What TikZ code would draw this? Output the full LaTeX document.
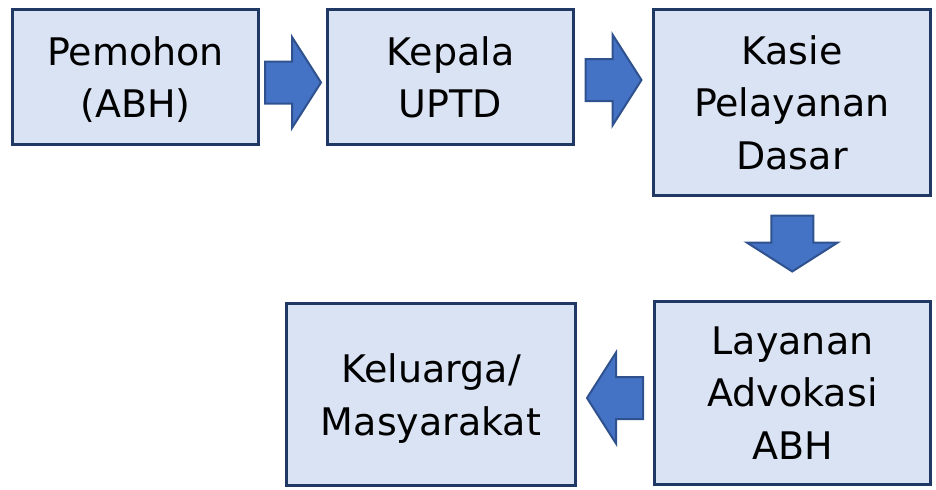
\documentclass[tikz,border=0pt]{standalone}
\usepackage{fontspec}
\setmainfont{DejaVu Sans}
\usetikzlibrary{calc}
\definecolor{isi}{HTML}{DAE3F3}
\definecolor{garis}{HTML}{1F3864}
\definecolor{panah}{HTML}{4472C4}
\definecolor{tepi}{HTML}{2F528F}
\begin{document}
\begin{tikzpicture}[x=0.5pt,y=0.5pt,
    kotak/.style={draw=garis,fill=isi,line width=1.5pt,align=center,inner sep=0pt,
        text depth=-3pt,font=\fontsize{19}{26.3}\selectfont},
    blok/.pic={\draw[fill=panah,draw=tepi,line width=1pt,line join=miter]
        (-28,-21) -- (-1,-21) -- (-1,-45.5) -- (28,0) -- (-1,45.5) -- (-1,21) -- (-28,21) -- cycle;}]
        \useasboundingbox (0,0) rectangle (936,489);
        \node[kotak,minimum width=123pt,minimum height=67.5pt] (pemohon) at (135.5,412){Pemohon\\(ABH)};
        \node[kotak,minimum width=123pt,minimum height=67.5pt] (kepala) at (450.5,412){Kepala\\UPTD};
        \node[kotak,minimum width=138.5pt,minimum height=93pt] (kasie) at (792,386.5){Kasie\\Pelayanan\\Dasar};
        \node[kotak,minimum width=138pt,minimum height=91.5pt] (layanan) at (792.5,96){Layanan\\Advokasi\\ABH};
        \node[kotak,minimum width=144.5pt,minimum height=91pt] (keluarga) at (431,94.5){Keluarga/\\Masyarakat};
        % panah blok
        \pic at ($($(pemohon.east)!0.5!(kepala.west)$)+(0,-5.5)$) {blok};
        \pic at ($($(kepala.east)!0.5!(kasie.west |- kepala.east)$)+(0,-3)$) {blok};
        \pic[rotate=-90] at ($($(kasie.south)!0.5!(layanan.north)$)+(0,5)$) {blok};
        \pic[rotate=180] at ($($(layanan.west)!0.5!(keluarga.east |- layanan.west)$)+(0,-5)$) {blok};
    \end{tikzpicture}
\end{document}
